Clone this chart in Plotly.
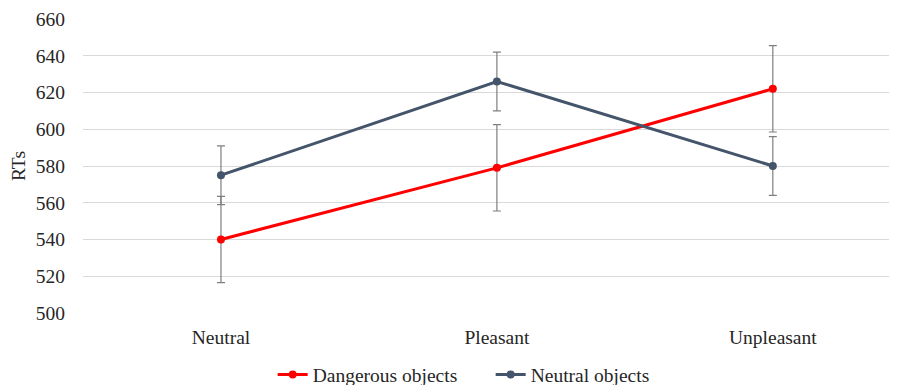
import plotly.graph_objects as go

categories = ["Neutral", "Pleasant", "Unpleasant"]
dangerous = [540, 579, 622]
dangerous_err = [23.5, 23.5, 23.5]
neutral = [575, 626, 580]
neutral_err = [16, 16, 16]
y_ticks = [500, 520, 540, 560, 580, 600, 620, 640, 660]

font = "Liberation Serif"

fig = go.Figure()
fig.add_trace(go.Scatter(
    x=categories, y=dangerous, name="Dangerous objects", mode="lines+markers",
    line=dict(color="#ff0000", width=3), marker=dict(size=8, color="#ff0000"),
    error_y=dict(type="data", array=dangerous_err, color="#7f7f7f", thickness=1.2, width=4),
))
fig.add_trace(go.Scatter(
    x=categories, y=neutral, name="Neutral objects", mode="lines+markers",
    line=dict(color="#44546a", width=3), marker=dict(size=8, color="#44546a"),
    error_y=dict(type="data", array=neutral_err, color="#7f7f7f", thickness=1.2, width=4),
))

fig.update_layout(
    width=897, height=385,
    margin=dict(l=75, r=8, t=11, b=80, autoexpand=False),
    plot_bgcolor="white", paper_bgcolor="white",
    font=dict(family=font, size=19.5, color="#262626"),
    showlegend=True,
    legend=dict(orientation="h", x=0.233, xanchor="left", y=-0.21, yanchor="middle",
                font=dict(family=font, size=19.5, color="#262626"), itemwidth=30,
                tracegroupgap=0, entrywidth=173, entrywidthmode="pixels"),
    xaxis=dict(type="category", range=[-0.5, 2.45], showgrid=False, zeroline=False,
               showline=False, ticks="", automargin=False, tickfont=dict(size=19.5),
               ticklabelstandoff=10),
    yaxis=dict(range=[500, 660], tickvals=y_ticks, showgrid=True, gridcolor="#d9d9d9",
               gridwidth=1, zeroline=False, showline=False, ticks="", automargin=False,
               ticklabelstandoff=17,
               title=dict(text="RTs", font=dict(size=19.5), standoff=4), tickfont=dict(size=19.5)),
)

fig.write_html("out.html")
